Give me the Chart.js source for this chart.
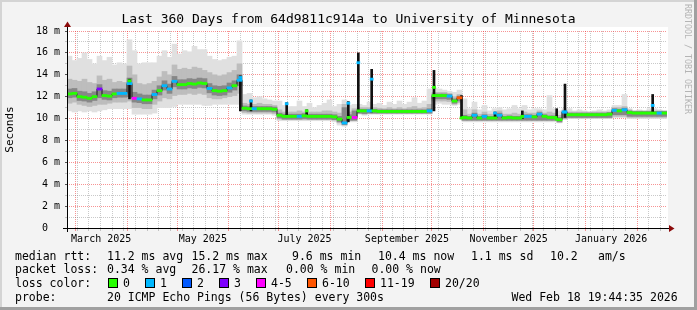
<!DOCTYPE html>
<html>
<head>
<meta charset="utf-8">
<script src="https://cdn.jsdelivr.net/npm/chart.js@4.4.1/dist/chart.umd.min.js"></script>
<style>
  html, body { margin: 0; padding: 0; background: #f3f3f3; }
  #wrap { position: relative; width: 697px; height: 310px; background: #f3f3f3; overflow: hidden;
          font-family: 'DejaVu Sans Mono', monospace; color: #000; }
  #graph { position: absolute; left: 0; top: 0; }
  #title { position: absolute; left: 0; top: 11px; width: 697px; text-align: center;
           font-size: 13px; line-height: 16px; white-space: pre; }
  #mark { position: absolute; left: 683px; top: 4px; writing-mode: vertical-rl;
          font-size: 8.3px; line-height: 9px; color: #b4b4b4; white-space: pre; }
  .row { position: absolute; left: 0; width: 697px; height: 13px; }
  .row span { position: absolute; top: 0; font-size: 11.5px; line-height: 13px; white-space: pre; }
  .row i { position: absolute; top: 1px; width: 8px; height: 8px; border: 1px solid #000; }
  .edge { position: absolute; }
</style>
</head>
<body>
<div id="wrap">
  <canvas id="graph" width="697" height="310" style="width:697px;height:310px"></canvas>
  <div id="title">Last 360 Days from 64d9811c914a to University of Minnesota</div>
  <div id="mark">RRDTOOL / TOBI OETIKER</div>
  <div class="row" style="top:249.5px">
    <span style="left:15px">median rtt:</span>
    <span style="left:107px">11.2 ms avg</span>
    <span style="left:191.5px">15.2 ms max</span>
    <span style="left:292px">9.6 ms min</span>
    <span style="left:378px">10.4 ms now</span>
    <span style="left:471px">1.1 ms sd</span>
    <span style="left:550px">10.2</span>
    <span style="left:598px">am/s</span>
  </div>
  <div class="row" style="top:263px">
    <span style="left:15px">packet loss:</span>
    <span style="left:107px">0.34 % avg</span>
    <span style="left:191.5px">26.17 % max</span>
    <span style="left:286px">0.00 % min</span>
    <span style="left:371.5px">0.00 % now</span>
  </div>
  <div class="row" id="lossRow" style="top:277px">
    <span style="left:15px">loss color:</span>
  </div>
  <div class="row" style="top:291px">
    <span style="left:15px">probe:</span>
    <span style="left:107px">20 ICMP Echo Pings (56 Bytes) every 300s</span>
    <span style="left:511.5px">Wed Feb 18 19:44:35 2026</span>
  </div>
  <div class="edge" style="left:0;top:0;width:697px;height:2px;background:#d4d4d4"></div>
  <div class="edge" style="left:0;top:0;width:2px;height:310px;background:#d4d4d4"></div>
  <div class="edge" style="left:694px;top:0;width:3px;height:310px;background:#a0a0a0"></div>
  <div class="edge" style="left:0;top:307px;width:697px;height:3px;background:#a0a0a0"></div>
</div>
<script>
// samples: 3-day steps, day 0 = 1 March 2025
const firstDay = -5;
const stepDays = 3;

const medianRtt = [
  12.25, 12.3, 12.0, 11.95, 11.85, 12.0, 12.7, 12.1, 12.05, 12.25,
  12.3, 12.3, 13.2, 11.85, 11.8, 11.7, 11.7, 12.2, 12.55, 13.0,
  12.7, 13.4, 13.1, 13.1, 13.2, 13.15, 13.25, 13.2, 12.75, 12.55,
  12.5, 12.55, 12.8, 13.0, 13.5, 10.95, 10.9, 10.9, 10.9, 10.9,
  10.9, 10.85, 10.3, 10.2, 10.2, 10.2, 10.2, 10.25, 10.2, 10.2,
  10.2, 10.2, 10.2, 10.15, 9.95, 9.6, 10.1, 10.1, 10.7, 10.7,
  10.7, 10.7, 10.65, 10.65, 10.65, 10.65, 10.65, 10.65, 10.65, 10.65,
  10.65, 10.65, 10.7, 12.1, 12.1, 12.1, 12.05, 11.6, 11.9, 10.1,
  10.05, 10.3, 10.05, 10.2, 10.05, 10.05, 10.3, 10.05, 10.1, 10.05,
  10.05, 10.2, 10.2, 10.15, 10.4, 10.2, 10.1, 10.1, 9.9, 10.6,
  10.35, 10.35, 10.35, 10.35, 10.35, 10.35, 10.35, 10.35, 10.4, 10.75,
  10.7, 10.8, 10.55, 10.5, 10.5, 10.5, 10.5, 10.5, 10.5, 10.5
];
const lossPings = [
  0, 0, 0, 0, 0, 0, 3, 0, 0, 0,
  1, 1, 1, 4, 1, 0, 0, 1, 0, 1,
  1, 1, 0, 0, 0, 0, 0, 0, 1, 0,
  0, 0, 1, 0, 1, 0, 0, 1, 0, 0,
  0, 0, 0, 0, 0, 0, 1, 0, 0, 0,
  0, 0, 0, 0, 0, 1, 0, 4, 0, 0,
  1, 0, 0, 0, 0, 0, 0, 0, 0, 0,
  0, 0, 1, 0, 0, 0, 1, 0, 6, 0,
  0, 1, 0, 1, 0, 0, 1, 0, 0, 0,
  0, 1, 1, 0, 1, 0, 0, 0, 0, 1,
  0, 0, 0, 0, 0, 0, 0, 0, 0, 1,
  0, 1, 0, 0, 0, 0, 0, 0, 1, 0
];
const smokeMin = [
  10.7, 10.6, 10.7, 10.6, 10.7, 10.6, 10.7, 10.8, 10.9, 10.9,
  10.9, 10.9, 10.9, 10.4, 10.4, 10.4, 10.4, 10.5, 11.0, 11.0,
  11.0, 11.1, 11.3, 11.3, 11.3, 11.3, 11.3, 11.2, 11.2, 11.3,
  11.3, 11.3, 11.3, 11.3, 11.3, 10.4, 10.4, 10.4, 10.4, 10.4,
  10.4, 10.3, 9.8, 9.8, 9.8, 9.8, 9.8, 9.8, 9.8, 9.8,
  9.8, 9.8, 9.8, 9.7, 9.4, 9.3, 9.7, 9.7, 10.4, 10.3,
  10.4, 10.4, 10.4, 10.4, 10.4, 10.4, 10.4, 10.4, 10.4, 10.4,
  10.4, 10.4, 10.4, 11.3, 11.4, 11.3, 11.3, 11.2, 11.3, 9.7,
  9.7, 9.7, 9.7, 9.7, 9.7, 9.7, 9.7, 9.7, 9.7, 9.7,
  9.7, 9.7, 9.7, 9.7, 9.7, 9.7, 9.7, 9.7, 9.6, 9.9,
  10.0, 10.0, 10.0, 10.0, 10.0, 10.0, 10.0, 10.0, 10.0, 10.1,
  10.1, 10.1, 10.0, 10.0, 10.0, 10.0, 10.0, 10.0, 10.0, 10.0
];
const smokeMax = [
  15.7, 15.3, 15.5, 16.0, 15.4, 15.0, 15.7, 15.3, 15.6, 14.9,
  15.1, 15.0, 17.2, 16.2, 15.0, 15.1, 15.1, 15.1, 15.7, 16.2,
  15.6, 16.8, 15.9, 16.2, 16.1, 16.6, 16.3, 16.3, 15.7, 15.4,
  15.3, 15.4, 15.6, 15.7, 17.1, 12.2, 12.3, 11.9, 12.0, 11.8,
  11.7, 11.6, 11.6, 11.2, 11.1, 11.1, 11.6, 11.1, 11.4, 11.0,
  11.2, 11.4, 11.7, 11.1, 11.3, 11.7, 11.2, 11.3, 11.3, 11.2,
  11.5, 11.3, 11.4, 11.2, 11.5, 11.3, 11.6, 11.3, 11.5, 11.9,
  11.4, 11.6, 12.7, 12.8, 12.7, 12.6, 12.5, 12.4, 12.6, 11.8,
  10.9, 11.5, 10.8, 11.2, 10.7, 10.9, 11.0, 10.8, 10.9, 11.2,
  10.9, 11.2, 10.8, 10.9, 10.9, 10.8, 12.1, 10.9, 10.7, 10.9,
  10.9, 10.7, 10.8, 10.7, 10.6, 10.7, 10.8, 10.7, 10.8, 11.2,
  11.2, 12.2, 10.9, 10.7, 10.8, 10.7, 10.9, 10.9, 10.8, 10.7
];
const smokeQ1 = [
  11.4, 11.5, 11.3, 11.2, 11.1, 11.2, 11.3, 11.3, 11.4, 11.5,
  11.5, 11.5, 11.6, 11.0, 11.0, 10.9, 10.9, 11.3, 11.6, 11.9,
  11.8, 12.1, 12.2, 12.2, 12.3, 12.2, 12.3, 12.2, 11.9, 11.8,
  11.8, 11.9, 12.0, 12.1, 12.3, 10.55, 10.5, 10.5, 10.5, 10.5,
  10.5, 10.45, 9.95, 9.9, 9.9, 9.9, 9.9, 9.9, 9.9, 9.9,
  9.9, 9.9, 9.9, 9.85, 9.6, 9.4, 9.8, 9.8, 10.45, 10.4,
  10.45, 10.45, 10.45, 10.45, 10.45, 10.45, 10.45, 10.45, 10.45, 10.45,
  10.45, 10.45, 10.45, 11.6, 11.6, 11.6, 11.55, 11.3, 11.45, 9.8,
  9.8, 9.8, 9.8, 9.8, 9.8, 9.8, 9.8, 9.8, 9.8, 9.8,
  9.8, 9.8, 9.8, 9.8, 9.8, 9.8, 9.8, 9.8, 9.65, 10.0,
  10.05, 10.05, 10.05, 10.05, 10.05, 10.05, 10.05, 10.05, 10.05, 10.2,
  10.2, 10.2, 10.1, 10.1, 10.1, 10.1, 10.1, 10.1, 10.1, 10.1
];
const smokeQ3 = [
  13.6, 13.5, 13.4, 13.6, 13.3, 13.2, 13.9, 13.5, 13.6, 13.3,
  13.4, 13.3, 14.8, 14.0, 13.2, 13.1, 13.2, 13.4, 13.8, 14.3,
  14.0, 14.9, 14.5, 14.6, 14.5, 14.7, 14.6, 14.4, 14.2, 14.0,
  13.9, 14.0, 14.2, 14.4, 15.0, 11.4, 11.3, 11.3, 11.4, 11.3,
  11.3, 11.2, 10.8, 10.6, 10.6, 10.6, 10.7, 10.6, 10.6, 10.6,
  10.6, 10.7, 10.7, 10.6, 10.5, 11.3, 10.6, 10.9, 11.0, 11.0,
  11.0, 11.0, 10.95, 10.9, 11.0, 10.9, 11.0, 10.9, 11.0, 11.1,
  10.95, 11.0, 11.3, 12.4, 12.4, 12.4, 12.3, 12.0, 12.2, 10.8,
  10.4, 10.8, 10.4, 10.6, 10.4, 10.4, 10.7, 10.4, 10.4, 10.5,
  10.4, 10.6, 10.5, 10.5, 10.7, 10.5, 10.6, 10.5, 10.3, 10.75,
  10.6, 10.6, 10.6, 10.6, 10.6, 10.6, 10.6, 10.6, 10.6, 11.0,
  11.0, 11.1, 10.8, 10.7, 10.7, 10.7, 10.7, 10.7, 10.7, 10.7
];
const coreLo = [
  11.9, 11.95, 11.65, 11.6, 11.5, 11.65, 11.9, 11.75, 11.7, 11.9,
  11.95, 11.95, 12.0, 11.5, 11.45, 11.35, 11.35, 11.8, 12.15, 12.6,
  12.3, 12.9, 12.7, 12.7, 12.8, 12.75, 12.85, 12.8, 12.35, 12.15,
  12.1, 12.15, 12.4, 12.6, 13.0, 10.7, 10.65, 10.65, 10.65, 10.65,
  10.65, 10.6, 10.05, 9.95, 9.95, 9.95, 9.95, 10.0, 9.95, 9.95,
  9.95, 9.95, 9.95, 9.9, 9.7, 9.45, 9.85, 9.85, 10.5, 10.45,
  10.5, 10.5, 10.5, 10.5, 10.5, 10.5, 10.5, 10.5, 10.5, 10.5,
  10.5, 10.5, 10.5, 11.8, 11.8, 11.8, 11.75, 11.4, 11.6, 9.85,
  9.85, 9.85, 9.85, 9.85, 9.85, 9.85, 9.85, 9.85, 9.85, 9.85,
  9.85, 9.85, 9.85, 9.85, 9.85, 9.85, 9.85, 9.85, 9.7, 10.05,
  10.1, 10.1, 10.1, 10.1, 10.1, 10.1, 10.1, 10.1, 10.1, 10.35,
  10.35, 10.35, 10.2, 10.2, 10.2, 10.2, 10.2, 10.2, 10.2, 10.2
];
const coreHi = [
  12.7, 12.75, 12.5, 12.45, 12.3, 12.45, 13.1, 12.55, 12.5, 12.7,
  12.7, 12.7, 13.7, 12.4, 12.25, 12.15, 12.15, 12.6, 13.0, 13.45,
  13.15, 13.85, 13.55, 13.55, 13.65, 13.6, 13.7, 13.65, 13.2, 13.0,
  12.95, 13.0, 13.25, 13.45, 14.0, 11.15, 11.1, 11.1, 11.1, 11.1,
  11.1, 11.05, 10.5, 10.4, 10.4, 10.4, 10.4, 10.45, 10.4, 10.4,
  10.4, 10.4, 10.4, 10.35, 10.2, 11.0, 10.35, 10.7, 10.85, 10.85,
  10.85, 10.85, 10.8, 10.8, 10.8, 10.8, 10.8, 10.8, 10.8, 10.8,
  10.8, 10.8, 10.9, 12.25, 12.25, 12.25, 12.2, 11.8, 12.05, 10.3,
  10.2, 10.5, 10.2, 10.35, 10.2, 10.2, 10.5, 10.2, 10.25, 10.2,
  10.2, 10.35, 10.35, 10.3, 10.55, 10.35, 10.25, 10.25, 10.1, 10.65,
  10.5, 10.5, 10.5, 10.5, 10.5, 10.5, 10.5, 10.5, 10.55, 10.9,
  10.85, 10.95, 10.7, 10.65, 10.65, 10.65, 10.65, 10.65, 10.65, 10.65
];

// short single-step spikes (day, lowest, highest, median, lost pings)
const spikeDays   = [32.5, 99.0, 105.4, 126.8, 138.8, 163.8, 169.8, 177.8, 215.2, 231.7, 251.8, 268.2, 288.8, 293.8, 346.4];
const spikeLow    = [11.8, 10.7, 10.7, 10.2, 10.2, 9.7, 10.6, 10.6, 10.7, 10.0, 10.0, 10.0, 9.9, 10.1, 10.5];
const spikeHigh   = [13.6, 13.9, 11.7, 11.45, 10.8, 11.55, 16.0, 14.5, 14.4, 12.1, 10.6, 10.7, 10.9, 13.15, 12.2];
const spikeMedian = [13.45, 13.75, 11.6, 11.35, 10.7, 11.4, 15.1, 13.6, 12.85, 10.05, 10.5, 10.2, 9.95, 10.6, 11.2];
const spikeLoss   = [0, 1, 1, 1, 0, 1, 1, 1, 0, 0, 1, 0, 0, 1, 1];

// x axis: month starts (red grid), sundays (grey grid), labels mid-month
const monthStarts = [0, 31, 61, 92, 122, 153, 184, 214, 245, 275, 306, 337];
const monthLabels = ['March 2025', null, 'May 2025', null, 'July 2025', null, 'September 2025', null,
                     'November 2025', null, 'January 2026', null];
const firstSunday = 1;
const lastSunday = 351;

const lossBuckets = ['0', '1', '2', '3', '4-5', '6-10', '11-19', '20/20'];
const lossColors = ['#26ff00', '#00b8ff', '#0059ff', '#7e00ff', '#ff00ff', '#ff5500', '#ff0000', '#a10000'];

const fontFamily = "'DejaVu Sans Mono', monospace";
const majorGrid = 'rgba(240,40,40,0.5)';
const minorGrid = 'rgba(120,120,120,0.4)';
const plotWidth = 600; // px, 360 days
const lineHalf = 0.1;  // half thickness of the median line, in ms

function bucketOf(n) {
	if (n <= 3) return n;
	if (n <= 5) return 4;
	if (n <= 10) return 5;
	if (n <= 19) return 6;
	return 7;
}

// loss colour legend
const lossRow = document.getElementById('lossRow');
const boxLeft = [108, 145, 182, 219, 256, 307, 365, 430];
lossBuckets.forEach((lbl, i) => {
	const box = document.createElement('i');
	box.style.left = boxLeft[i] + 'px';
	box.style.background = lossColors[i];
	lossRow.appendChild(box);
	const sp = document.createElement('span');
	sp.style.left = (boxLeft[i] + 15) + 'px';
	sp.textContent = lbl;
	lossRow.appendChild(sp);
});

const dayOf = i => firstDay + stepDays * (i + 0.5);
const band = (lo, hi) => lo.map((v, i) => ({ x: dayOf(i), y: [v, hi[i]] }));

// tick positions for the x axis
const xTickKind = new Map();
for (let d = firstSunday; d <= lastSunday; d += 7) xTickKind.set(d, 'week');
monthStarts.forEach(d => xTickKind.set(d, 'month'));
const xLabelAt = new Map();
monthLabels.forEach((lbl, i) => {
	if (!lbl) return;
	const mid = (monthStarts[i] + monthStarts[i + 1]) / 2;
	xTickKind.set(mid, 'label');
	xLabelAt.set(mid, lbl);
});
const xTickValues = [...xTickKind.keys()].sort((a, b) => a - b);

function xGridColor(ctx) {
	const k = xTickKind.get(ctx.tick && ctx.tick.value);
	if (k === 'month') return majorGrid;
	if (k === 'week') return minorGrid;
	return 'rgba(0,0,0,0)';
}

const frame = {
	id: 'frame',
	beforeDraw(chart) {
		const { ctx, chartArea: a } = chart;
		ctx.save();
		ctx.fillStyle = '#ffffff';
		ctx.fillRect(a.left, a.top - 4, a.right - a.left + 1, a.bottom - a.top + 4);
		ctx.restore();
	},
	afterDraw(chart) {
		const { ctx, chartArea: a } = chart;
		const y0 = a.bottom + 0.5, x0 = a.left + 0.5;
		ctx.save();
		ctx.strokeStyle = '#000';
		ctx.lineWidth = 1;
		ctx.beginPath();
		ctx.moveTo(a.left - 4, y0); ctx.lineTo(a.right + 3, y0);
		ctx.moveTo(x0, a.bottom + 4); ctx.lineTo(x0, a.top - 5);
		ctx.stroke();
		ctx.fillStyle = '#8b0a0a';
		ctx.beginPath();
		ctx.moveTo(a.right + 2, y0 - 3.5); ctx.lineTo(a.right + 7.5, y0); ctx.lineTo(a.right + 2, y0 + 3.5);
		ctx.closePath(); ctx.fill();
		ctx.beginPath();
		ctx.moveTo(x0 - 3.5, a.top - 4); ctx.lineTo(x0, a.top - 9.5); ctx.lineTo(x0 + 3.5, a.top - 4);
		ctx.closePath(); ctx.fill();
		ctx.restore();
	}
};

const stepWidth = plotWidth / 360 * stepDays;

new Chart(document.getElementById('graph'), {
	type: 'bar',
	data: {
		datasets: [
			{ data: band(smokeMin, smokeMax), backgroundColor: '#e0e0e0', order: 7 },
			{ data: band(smokeQ1, smokeQ3), backgroundColor: '#bdbdbd', order: 6 },
			{ data: band(coreLo, coreHi), backgroundColor: '#878787', order: 5 },
			{
				data: spikeDays.map((d, i) => ({ x: d, y: [spikeLow[i], spikeHigh[i]] })),
				backgroundColor: '#111111',
				barThickness: 2,
				order: 4
			},
			{
				type: 'line',
				data: medianRtt.map((v, i) => ({ x: dayOf(i), y: v })),
				stepped: 'middle',
				borderColor: '#1c1c1c',
				borderWidth: 1,
				pointRadius: 0,
				order: 3
			},
			{
				data: medianRtt.map((v, i) => ({ x: dayOf(i), y: [v - lineHalf, v + lineHalf] })),
				backgroundColor: lossPings.map(n => lossColors[bucketOf(n)]),
				order: 2
			},
			{
				data: spikeDays.map((d, i) => ({ x: d, y: [spikeMedian[i] - lineHalf, spikeMedian[i] + lineHalf] })),
				backgroundColor: spikeLoss.map(n => lossColors[bucketOf(n)]),
				barThickness: 3,
				order: 1
			}
		]
	},
	options: {
		responsive: false,
		animation: false,
		events: [],
		datasets: {
			bar: { barThickness: stepWidth, grouped: false, borderWidth: 0 }
		},
		layout: { padding: { top: 31, right: 30, bottom: 0, left: 0 } },
		plugins: { legend: { display: false }, tooltip: { enabled: false }, title: { display: false } },
		scales: {
			x: {
				type: 'linear',
				min: firstDay,
				max: firstDay + 360,
				offset: false,
				z: 1,
				afterBuildTicks: s => { s.ticks = xTickValues.map(v => ({ value: v })); },
				afterFit: s => { s.height = 82; },
				grid: { offset: false, color: xGridColor, tickColor: xGridColor, tickLength: 3 },
				border: { display: false, dash: [1, 1] },
				ticks: {
					autoSkip: false,
					maxRotation: 0,
					padding: 2,
					color: '#000',
					font: { family: fontFamily, size: 10 },
					callback: v => xLabelAt.get(v) || ''
				}
			},
			y: {
				min: 0,
				max: 18,
				z: 1,
				afterFit: s => { s.width = 67; },
				grid: {
					color: c => (c.tick.value % 2 ? minorGrid : majorGrid),
					tickColor: c => (c.tick.value % 2 ? minorGrid : '#555'),
					tickLength: 2
				},
				border: { display: false, dash: [1, 1] },
				ticks: {
					stepSize: 1,
					autoSkip: false,
					padding: 5,
					color: '#000',
					font: { family: fontFamily, size: 10 },
					callback: v => (v % 2 ? '' : (v === 0 ? '0  ' : v + ' m'))
				},
				title: {
					display: true,
					text: 'Seconds',
					color: '#000',
					font: { family: fontFamily, size: 11 },
					padding: { top: 4, bottom: 0 }
				}
			}
		}
	},
	plugins: [frame]
});
</script>
</body>
</html>
